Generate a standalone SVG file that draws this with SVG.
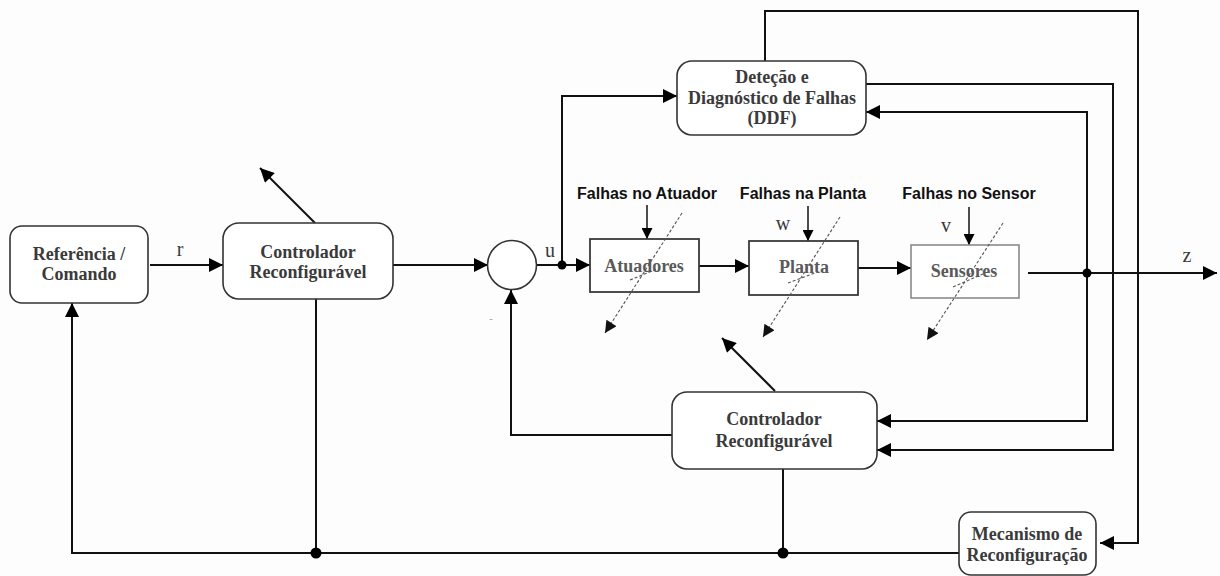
<svg xmlns="http://www.w3.org/2000/svg" width="1220" height="576" viewBox="0 0 1220 576">
  <style>
    .box { fill: #ffffff; stroke: #333333; stroke-width: 1.6; }
    .blk { fill: #ffffff; stroke: #3a3a3a; stroke-width: 1.8; }
    .blk-light { fill: #ffffff; stroke: #8a8a8a; stroke-width: 1.6; }
    .lbl { font-family: "Liberation Serif", "Times New Roman", serif; font-weight: bold; font-size: 18px; fill: #3a3a3a; text-anchor: middle; }
    .lbl-soft { font-family: "Liberation Serif", "Times New Roman", serif; font-weight: bold; font-size: 18px; fill: #5a5a5a; text-anchor: middle; }
    .sig { font-family: "Liberation Serif", "Times New Roman", serif; font-size: 20px; fill: #3a3a3a; text-anchor: middle; }
    .fault { font-family: "Liberation Sans", Arial, sans-serif; font-weight: bold; font-size: 16px; fill: #111111; text-anchor: middle; }
    .wire { fill: none; stroke: #111111; stroke-width: 2; }
    .thin { fill: none; stroke: #111111; stroke-width: 1.5; }
    .dash { fill: none; stroke: #555555; stroke-width: 1.1; stroke-dasharray: 3 2; }
    .dot { fill: #000000; }
  </style>
  <defs>
    <marker id="arrow" viewBox="0 0 10 10" refX="10" refY="5" markerUnits="userSpaceOnUse" markerWidth="17" markerHeight="14" orient="auto">
      <path d="M0,0 L10,5 L0,10 z" fill="#000"/>
    </marker>
    <marker id="arrow-sm" viewBox="0 0 10 10" refX="10" refY="5" markerUnits="userSpaceOnUse" markerWidth="13" markerHeight="11" orient="auto">
      <path d="M0,0 L10,5 L0,10 z" fill="#000"/>
    </marker>
    <marker id="arrow-dash" viewBox="0 0 10 10" refX="10" refY="5" markerUnits="userSpaceOnUse" markerWidth="15" markerHeight="12" orient="auto">
      <path d="M0,0 L10,5 L0,10 z" fill="#111"/>
    </marker>
  </defs>

  <rect width="1220" height="576" fill="#fdfdfd"/>

  <!-- connectors -->
  <g id="connectors">
    <line class="wire" x1="150" y1="265" x2="223" y2="265" marker-end="url(#arrow)"/>
    <line class="wire" x1="393" y1="265" x2="488" y2="265" marker-end="url(#arrow)"/>
    <line class="wire" x1="537" y1="265" x2="590" y2="265" marker-end="url(#arrow)"/>
    <line class="wire" x1="699" y1="266" x2="749" y2="266" marker-end="url(#arrow)"/>
    <line class="wire" x1="858" y1="268" x2="911" y2="268" marker-end="url(#arrow)"/>
    <line class="wire" x1="1028" y1="273" x2="1217" y2="273" marker-end="url(#arrow)"/>

    <!-- u to fault detection -->
    <path class="wire" d="M562,265 V96 H677" marker-end="url(#arrow)"/>
    <!-- DDF outputs -->
    <path class="wire" d="M765,61 V11 H1138 V543 H1100" marker-end="url(#arrow)"/>
    <path class="wire" d="M866,84 H1113 V450 H877" marker-end="url(#arrow)"/>
    <!-- measured output feedback -->
    <path class="wire" d="M1087,273 V112 H866" marker-end="url(#arrow)"/>
    <path class="wire" d="M1087,273 V421 H877" marker-end="url(#arrow)"/>

    <!-- lower controller back to summing junction -->
    <path class="wire" d="M672,435 H511 V290" marker-end="url(#arrow)"/>
    <!-- reconfiguration bus -->
    <path class="wire" d="M959,553 H72 V303" marker-end="url(#arrow)"/>
    <line class="wire" x1="316" y1="299" x2="316" y2="553"/>
    <line class="wire" x1="783" y1="469" x2="783" y2="553"/>

    <!-- adjustable controller arrows -->
    <line class="wire" x1="315" y1="223" x2="260" y2="168" marker-end="url(#arrow)"/>
    <line class="wire" x1="775" y1="391" x2="722" y2="338" marker-end="url(#arrow)"/>

    <!-- fault inputs -->
    <line class="thin" x1="647" y1="205" x2="647" y2="239" marker-end="url(#arrow-sm)"/>
    <line class="thin" x1="808" y1="206" x2="808" y2="241" marker-end="url(#arrow-sm)"/>
    <line class="thin" x1="969" y1="207" x2="969" y2="245" marker-end="url(#arrow-sm)"/>

    <!-- junction dots -->
    <circle class="dot" cx="562" cy="265" r="4.5"/>
    <circle class="dot" cx="1087" cy="273" r="4.5"/>
    <circle class="dot" cx="316" cy="553" r="5.5"/>
    <circle class="dot" cx="783" cy="553" r="5.5"/>
  </g>

  <!-- signal labels -->
  <g id="signals">
    <text class="sig" x="180" y="256">r</text>
    <text class="sig" x="550" y="257">u</text>
    <text class="sig" x="783" y="230">w</text>
    <text class="sig" x="946" y="232">v</text>
    <text class="sig" x="1187" y="262">z</text>
    <text class="sig" x="491" y="322" style="font-size:10px;fill:#9a9a9a">-</text>
  </g>

  <g id="referencia">
    <rect class="box" x="10" y="226" width="138" height="77" rx="12"/>
    <text class="lbl" x="79" y="260">Referência /</text>
    <text class="lbl" x="79" y="280">Comando</text>
  </g>

  <g id="controlador-1">
    <rect class="box" x="223" y="223" width="170" height="76" rx="16"/>
    <text class="lbl" x="308" y="258">Controlador</text>
    <text class="lbl" x="308" y="278">Reconfigurável</text>
  </g>

  <g id="somador">
    <circle cx="512" cy="265" r="24.5" fill="#ffffff" stroke="#333333" stroke-width="1.6"/>
  </g>

  <g id="atuadores">
    <text class="fault" x="647" y="199">Falhas no Atuador</text>
    <rect class="blk" x="590" y="239" width="109" height="53"/>
    <text class="lbl-soft" x="644" y="272">Atuadores</text>
    <line class="dash" x1="682" y1="213" x2="605" y2="333" marker-end="url(#arrow-dash)"/>
    <line class="dash" x1="630" y1="280" x2="657" y2="269"/>
  </g>

  <g id="planta">
    <text class="fault" x="803" y="199">Falhas na Planta</text>
    <rect class="blk" x="749" y="241" width="109" height="54"/>
    <text class="lbl-soft" x="804" y="273">Planta</text>
    <line class="dash" x1="840" y1="217" x2="763" y2="337" marker-end="url(#arrow-dash)"/>
    <line class="dash" x1="788" y1="283" x2="815" y2="273"/>
  </g>

  <g id="sensores">
    <text class="fault" x="969" y="199">Falhas no Sensor</text>
    <rect class="blk-light" x="911" y="245" width="108" height="53"/>
    <text class="lbl-soft" x="964" y="277">Sensores</text>
    <line class="dash" x1="1003" y1="223" x2="927" y2="340" marker-end="url(#arrow-dash)"/>
    <line class="dash" x1="953" y1="287" x2="983" y2="274"/>
  </g>

  <g id="ddf">
    <rect class="box" x="677" y="61" width="189" height="74" rx="15"/>
    <text class="lbl" x="772" y="83">Deteção e</text>
    <text class="lbl" x="772" y="104">Diagnóstico de Falhas</text>
    <text class="lbl" x="772" y="124">(DDF)</text>
  </g>

  <g id="controlador-2">
    <rect class="box" x="672" y="392" width="205" height="77" rx="15"/>
    <text class="lbl" x="774" y="425">Controlador</text>
    <text class="lbl" x="774" y="447">Reconfigurável</text>
  </g>

  <g id="mecanismo">
    <rect class="box" x="959" y="512" width="137" height="63" rx="12"/>
    <text class="lbl" x="1027" y="540">Mecanismo de</text>
    <text class="lbl" x="1027" y="561">Reconfiguração</text>
  </g>
</svg>
